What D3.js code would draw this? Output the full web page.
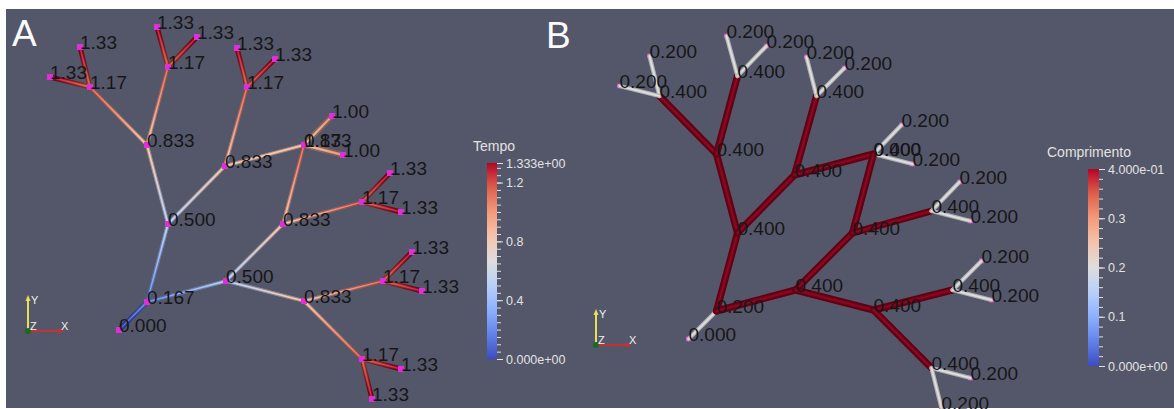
<!DOCTYPE html>
<html>
<head>
<meta charset="UTF-8">
<title>Tempo / Comprimento</title>
<script src="https://d3js.org/d3.v7.min.js"></script>
<style>
  body { margin: 0; padding: 0; background: #fff; }
  svg { display: block; font-family: "Liberation Sans", Arial, sans-serif; }
  .val { font-size: 19px; fill: #161618; }
  .panel-letter { font-size: 37px; fill: #fafafa; }
  .bar-title { font-size: 14px; fill: #e2e2e2; }
  .bar .tick text { font-size: 12.5px; fill: #e2e2e2; font-family: "Liberation Sans", Arial, sans-serif; }
  .bar .tick line { stroke: #e2e2e2; }
  .triad text { font-size: 11px; fill: #f0f0f0; }
</style>
</head>
<body>
<svg id="chart" width="1174" height="409"></svg>
<script>
// point positions (model units)
const nodeX = [0, 0.28, 0.49, 1.07, 0.28, 1.06, -0.29, 0.49, -0.39, -0.69, 0.38, 0.78, 1.28, 1.18, 1.56,
               1.85, 1.85, 2.13, 2.24, 1.64, 2.43, 2.71, 2.82, 1.85, 2.64, 2.93, 3.03, 2.43, 2.82, 2.53];
const nodeY = [0, 0.28, 1.06, 0.49, 1.85, 1.64, 2.43, 2.63, 2.83, 2.53, 3.03, 2.93, 2.43, 2.82, 2.71,
               1.85, 1.85, 2.14, 1.75, 1.06, 1.28, 1.57, 1.18, 0.29, 0.49, 0.78, 0.39, -0.29, -0.39, -0.69];

// point data
const tempo = [0, 0.167, 0.5, 0.5, 0.833, 0.833, 1.167, 1.167, 1.333, 1.333, 1.333, 1.333, 1.167, 1.333, 1.333,
               0.833, 1.167, 1.0, 1.0, 0.833, 1.167, 1.333, 1.333, 0.833, 1.167, 1.333, 1.333, 1.167, 1.333, 1.333];
const comprimento = [0, 0.2, 0.4, 0.4, 0.4, 0.4, 0.4, 0.4, 0.2, 0.2, 0.2, 0.2, 0.4, 0.2, 0.2,
                     0.4, 0.0, 0.2, 0.2, 0.4, 0.4, 0.2, 0.2, 0.4, 0.4, 0.2, 0.2, 0.4, 0.2, 0.2];

// segments and segment length (cell data)
const edges = [[0,1],[1,2],[1,3],[2,4],[2,5],[4,6],[4,7],[6,8],[6,9],[7,10],[7,11],[5,12],[12,13],[12,14],
               [5,15],[15,17],[15,18],[3,19],[19,16],[19,20],[20,21],[20,22],[3,23],[23,24],[24,25],[24,26],
               [23,27],[27,28],[27,29]];
const edgeLen = [0.2, 0.4, 0.4, 0.4, 0.4, 0.4, 0.4, 0.2, 0.2, 0.2, 0.2, 0.4, 0.2, 0.2,
                 0.4, 0.2, 0.2, 0.4, 0.4, 0.4, 0.2, 0.2, 0.4, 0.4, 0.2, 0.2, 0.4, 0.2, 0.2];

// colour bar ticks
const tempoMax = 1.333;
const tempoTicks = [0, 0.4, 0.8, 1.2, 1.333];
const tempoMinorStep = 0.05;
const compMax = 0.4;
const compTicks = [0, 0.1, 0.2, 0.3, 0.4];
const compMinorStep = 0.02;

// cool to warm lookup table
const coolWarmStops = ["#3b4cc0", "#6282ea", "#8db0fe", "#b8d0f9", "#dddddd",
                       "#f5c4ad", "#f49a7b", "#de604d", "#b40426"];

const svg = d3.select("#chart");
const defs = svg.append("defs");

svg.append("rect")
    .attr("x", 6).attr("y", 9)
    .attr("width", 1168).attr("height", 399)
    .attr("fill", "#545769");

function coolWarm(max) {
    return d3.scaleLinear()
        .domain(coolWarmStops.map((c, i) => max * i / (coolWarmStops.length - 1)))
        .range(coolWarmStops)
        .interpolate(d3.interpolateRgb);
}
const tempoColor = coolWarm(tempoMax);
const compColor = coolWarm(compMax);

const fmtVal = v => v < 1 ? v.toFixed(3) : v.toPrecision(3);
const fmtExp = v => v.toExponential(3).replace(/e([+-])(\d)$/, "e$10$2");

const degree = nodeX.map(() => 0);
edges.forEach(([a, b]) => { degree[a]++; degree[b]++; });

// one panel of the network
function drawPanel(opt) {
    const x = d3.scaleLinear().domain([0, 1]).range([opt.x0, opt.x0 + 100]);
    const y = d3.scaleLinear().domain([0, 1]).range([opt.y0, opt.y0 - 100]);
    const g = svg.append("g");

    if (!opt.markersOnTop) {
        g.append("g").selectAll("rect")
            .data(d3.range(nodeX.length).filter(i => degree[i] === 1))
            .join("rect")
            .attr("x", i => x(nodeX[i]) - 2.5).attr("y", i => y(nodeY[i]) - 2.5)
            .attr("width", 5).attr("height", 5)
            .attr("fill", "#d92ed6");
    }

    const tubes = g.append("g").selectAll("g")
        .data(edges.map((e, k) => ({ s: e[0], t: e[1], k })))
        .join("g");

    tubes.each(function(d) {
        const el = d3.select(this);
        const x1 = x(nodeX[d.s]), y1 = y(nodeY[d.s]), x2 = x(nodeX[d.t]), y2 = y(nodeY[d.t]);
        const w = opt.width(d);
        let paint;
        if (opt.gradient) {
            const id = opt.id + "-g" + d.k;
            const lg = defs.append("linearGradient").attr("id", id)
                .attr("gradientUnits", "userSpaceOnUse")
                .attr("x1", x1).attr("y1", y1).attr("x2", x2).attr("y2", y2);
            lg.append("stop").attr("offset", "0%").attr("stop-color", tempoColor(tempo[d.s]));
            lg.append("stop").attr("offset", "100%").attr("stop-color", tempoColor(tempo[d.t]));
            paint = `url(#${id})`;
        } else {
            paint = compColor(edgeLen[d.k]);
        }
        const shade = opt.shade(d);
        const line = () => el.append("line")
            .attr("x1", x1).attr("y1", y1).attr("x2", x2).attr("y2", y2)
            .attr("stroke-linecap", "round");
        line().attr("stroke", paint).attr("stroke-width", w);
        line().attr("stroke", "#000").attr("stroke-opacity", shade[0]).attr("stroke-width", w);
        line().attr("stroke", paint).attr("stroke-width", w * 0.5).attr("stroke-opacity", shade[1]);
        line().attr("stroke", "#fff").attr("stroke-opacity", shade[2]).attr("stroke-width", w * 0.18);
    });

    if (opt.markersOnTop) {
        g.append("g").selectAll("rect")
            .data(d3.range(nodeX.length))
            .join("rect")
            .attr("x", i => x(nodeX[i]) - 3).attr("y", i => y(nodeY[i]) - 3)
            .attr("width", 6).attr("height", 6)
            .attr("fill", "#de2fdc");
    }

    g.append("g").selectAll("text")
        .data(d3.range(nodeX.length))
        .join("text")
        .attr("class", "val")
        .attr("x", i => x(nodeX[i]))
        .attr("y", i => y(nodeY[i]) + 2)
        .text(i => fmtVal(opt.values[i]));

    svg.append("text").attr("class", "panel-letter")
        .attr("x", opt.letterX).attr("y", opt.letterY).text(opt.letter);
}

// orientation triad
function drawTriad(ox, oy) {
    const g = svg.append("g").attr("class", "triad");
    g.append("line").attr("x1", ox).attr("y1", oy).attr("x2", ox).attr("y2", oy - 33)
        .attr("stroke", "#e6e05a").attr("stroke-width", 2);
    g.append("path").attr("d", `M${ox - 2.5},${oy - 30}L${ox},${oy - 36}L${ox + 2.5},${oy - 30}Z`).attr("fill", "#e6e05a");
    g.append("line").attr("x1", ox).attr("y1", oy).attr("x2", ox + 33).attr("y2", oy)
        .attr("stroke", "#c8322e").attr("stroke-width", 2);
    g.append("path").attr("d", `M${ox + 30},${oy - 2.5}L${ox + 36},${oy}L${ox + 30},${oy + 2.5}Z`).attr("fill", "#c8322e");
    g.append("circle").attr("cx", ox).attr("cy", oy).attr("r", 3).attr("fill", "#1c6b1c");
    g.append("text").attr("x", ox + 3).attr("y", oy - 27).text("Y");
    g.append("text").attr("x", ox + 2).attr("y", oy - 1).text("Z");
    g.append("text").attr("x", ox + 33).attr("y", oy - 1).text("X");
}

// colour legend
function drawBar(opt) {
    const id = opt.id + "-bar";
    const lg = defs.append("linearGradient").attr("id", id)
        .attr("x1", 0).attr("y1", 1).attr("x2", 0).attr("y2", 0);
    d3.range(0, 1.0001, 0.05).forEach(f => {
        lg.append("stop").attr("offset", f).attr("stop-color", opt.color(f * opt.max));
    });
    const y = d3.scaleLinear().domain([0, opt.max]).range([opt.bottom, opt.top]);
    const g = svg.append("g").attr("class", "bar");

    svg.append("text").attr("class", "bar-title")
        .attr("x", opt.titleX).attr("y", opt.top - 12).text(opt.title);

    g.append("rect")
        .attr("x", opt.x).attr("y", opt.top)
        .attr("width", opt.w).attr("height", opt.bottom - opt.top)
        .attr("fill", `url(#${id})`);

    g.append("g").attr("transform", `translate(${opt.x + opt.w},0)`)
        .call(d3.axisRight(y).tickValues(d3.range(0, opt.max, opt.minor)).tickSize(4).tickFormat(""))
        .call(a => a.select(".domain").remove());

    g.append("g").attr("transform", `translate(${opt.x + opt.w},0)`)
        .call(d3.axisRight(y).tickValues(opt.ticks).tickSize(6).tickPadding(3)
            .tickFormat(v => (v === 0 || v === opt.max) ? fmtExp(v) : d3.format(".1f")(v)))
        .call(a => a.select(".domain").remove());
}

drawPanel({ id: "a", x0: 119, y0: 330, values: tempo, gradient: true, markersOnTop: true,
            width: d => edgeLen[d.k] === 0.2 ? 5 : 3.6,
            shade: d => edgeLen[d.k] === 0.2 ? [0.45, 0.85, 0.2] : [0.3, 0.95, 0.3],
            letter: "A", letterX: 12, letterY: 46 });
drawPanel({ id: "b", x0: 688.5, y0: 339, values: comprimento, gradient: false, markersOnTop: false,
            width: d => edgeLen[d.k] === 0.4 ? 7 : 4.2,
            shade: d => edgeLen[d.k] === 0.4 ? [0.48, 0.35, 0.06] : [0.2, 0.9, 0.3],
            letter: "B", letterX: 546, letterY: 48 });

drawTriad(28, 331);
drawTriad(596, 345);

drawBar({ id: "a", x: 487, w: 10, top: 163, bottom: 359, max: tempoMax, color: tempoColor,
          ticks: tempoTicks, minor: tempoMinorStep, title: "Tempo", titleX: 473 });
drawBar({ id: "b", x: 1088, w: 11, top: 169, bottom: 366, max: compMax, color: compColor,
          ticks: compTicks, minor: compMinorStep, title: "Comprimento", titleX: 1047 });
</script>
</body>
</html>
